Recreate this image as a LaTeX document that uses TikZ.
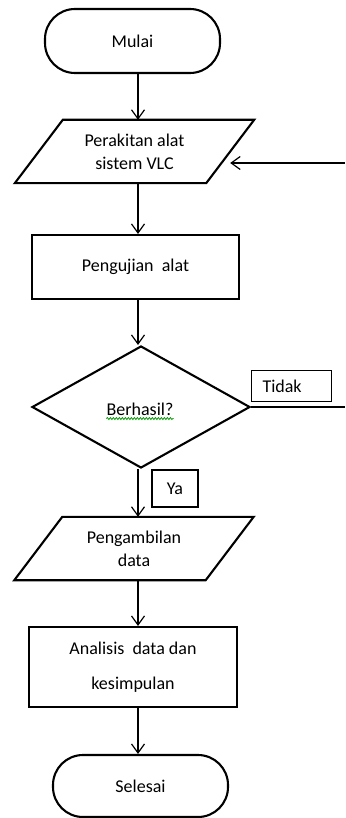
\documentclass[tikz,border=0pt]{standalone}
\usepackage{fontspec}
\setmainfont{Carlito}
\usetikzlibrary{arrows.meta,shapes.geometric,decorations.pathmorphing}
\begin{document}
\begin{tikzpicture}[x=1pt,y=-1pt,
  every node/.style={font=\fontsize{18}{23}\selectfont},
  shp/.style={draw, line width=2.1pt},
  term/.style={shp, rounded corners=30pt, minimum width=175pt, inner sep=0},
  proc/.style={shp, align=center, inner sep=0},
  para/.style={align=center, inner sep=0, minimum width=191pt, minimum height=63pt},
  lbl/.style={draw, line width=1.3pt},
  arr/.style={line width=1.2pt, -{Straight Barb[length=9pt,width=13pt]}},
  plainline/.style={line width=1.2pt},
  wavy/.style={draw=green!60!black, line width=0.8pt, decorate, decoration={snake, amplitude=1pt, segment length=3pt}}
]
\useasboundingbox (0,0) rectangle (345,818);

% nodes
\node[term, minimum height=64pt] (start) at (132.5,41) {Mulai};
\node[para] (p1) at (134.5,151.5) {Perakitan alat\\sistem VLC};
\draw[shp] ([xshift=24pt]p1.north west) -- ([xshift=24pt]p1.north east) -- ([xshift=-24pt]p1.south east) -- ([xshift=-24pt]p1.south west) -- cycle;
\node[proc, minimum width=207pt, minimum height=64pt] (t1) at (135.5,267) {Pengujian\ \ alat};
\node[diamond, shp, minimum width=218pt, minimum height=122pt, inner sep=0] (dec) at (141,407) {};
\node[inner sep=0] (dtx) at (140,409) {Berhasil?};
\draw[wavy] ([yshift=-3pt]dtx.south west) -- ([yshift=-3pt]dtx.south east);
\node[para] (p2) at (134,548.5) {Pengambilan\\data};
\draw[shp] ([xshift=24pt]p2.north west) -- ([xshift=24pt]p2.north east) -- ([xshift=-24pt]p2.south east) -- ([xshift=-24pt]p2.south west) -- cycle;
\node[proc, minimum width=208pt, minimum height=80pt] (t2) at (133,667) {Analisis\ \ data dan\\[12pt]kesimpulan};
\node[term, minimum height=62pt] (end) at (140.5,786) {Selesai};

\node[lbl, text width=58pt, align=left, inner xsep=11pt, inner ysep=0, minimum height=31pt] (tidak) at (291.5,386) {Tidak};
\node[lbl, minimum width=46pt, minimum height=37pt, inner sep=0] (ya) at (175,488.5) {Ya};

% connectors
\coordinate (ax) at (138,0);
\draw[arr] (start.south -| ax) -- (p1.north -| ax);
\draw[arr] (p1.south -| ax) -- (t1.north -| ax);
\draw[arr] (t1.south -| ax) -- (dec.north -| ax);
\draw[arr] (dec.south -| ax) -- (p2.north -| ax);
\draw[arr] (p2.south -| ax) -- (t2.north -| ax);
\draw[arr] (t2.south -| ax) -- (end.north -| ax);

\coordinate (tr) at (345,408);
\draw[plainline] (dec.east) -- (dec.east -| tr);
\coordinate (fb) at (345,163);
\draw[arr] (fb) -- (fb -| p1.east);
\end{tikzpicture}
\end{document}
